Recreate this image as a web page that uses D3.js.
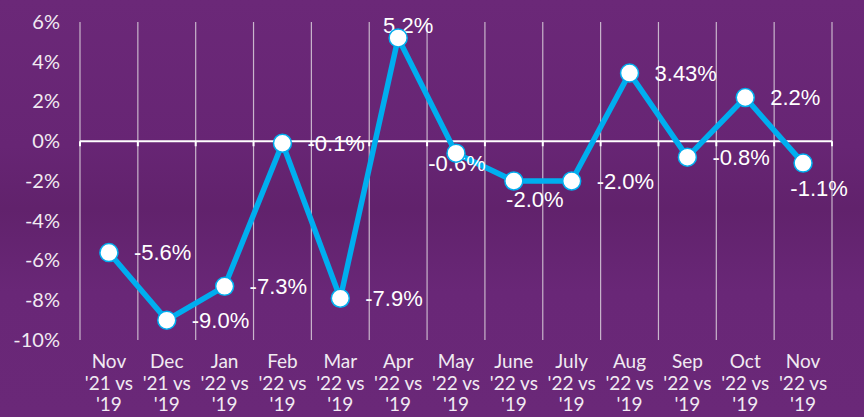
<!DOCTYPE html>
<html>
<head>
<meta charset="utf-8">
<script src="https://cdn.jsdelivr.net/npm/d3@7"></script>
<style>
  html, body { margin: 0; padding: 0; background: #6a2878; }
  svg { display: block; }
</style>
</head>
<body>
<div id="chart"></div>
<script>
// Chart data.
const months = [ 'Nov', 'Dec', 'Jan', 'Feb', 'Mar', 'Apr', 'May', 'June', 'July', 'Aug', 'Sep', 'Oct', 'Nov' ];
const years = [ "'21 vs", "'21 vs", "'22 vs", "'22 vs", "'22 vs", "'22 vs", "'22 vs", "'22 vs", "'22 vs", "'22 vs", "'22 vs", "'22 vs", "'22 vs" ];
const baseYear = "'19";
const values = [ -5.6, -9.0, -7.3, -0.1, -7.9, 5.2, -0.6, -2.0, -2.0, 3.43, -0.8, 2.2, -1.1 ];
const valueLabels = [ '-5.6%', '-9.0%', '-7.3%', '-0.1%', '-7.9%', '5.2%', '-0.6%', '-2.0%', '-2.0%', '3.43%', '-0.8%', '2.2%', '-1.1%' ];
const yTicks = [ -10, -8, -6, -4, -2, 0, 2, 4, 6 ];

// Where each data label sits relative to its point.
const labelPlacement = [ 'right', 'right', 'right', 'right', 'right', 'above', 'below', 'belowRight', 'right', 'right', 'right', 'right', 'lowRight' ];

const width = 864, height = 417;
const margin = { top: 22, right: 32, bottom: 77, left: 80 };
const plotW = width - margin.left - margin.right;
const plotH = height - margin.top - margin.bottom;

const svg = d3.select( '#chart' ).append( 'svg' )
  .attr( 'width', width )
  .attr( 'height', height );

// Background with a faint darker streak across the middle.
const defs = svg.append( 'defs' );
const grad = defs.append( 'linearGradient' )
  .attr( 'id', 'bg' )
  .attr( 'x1', 0 ).attr( 'y1', 0 ).attr( 'x2', 0 ).attr( 'y2', 1 );
grad.append( 'stop' ).attr( 'offset', '0%' ).attr( 'stop-color', '#6b2878' );
grad.append( 'stop' ).attr( 'offset', '35%' ).attr( 'stop-color', '#672574' );
grad.append( 'stop' ).attr( 'offset', '50%' ).attr( 'stop-color', '#61226c' );
grad.append( 'stop' ).attr( 'offset', '70%' ).attr( 'stop-color', '#692777' );
grad.append( 'stop' ).attr( 'offset', '100%' ).attr( 'stop-color', '#6a2878' );
svg.append( 'rect' )
  .attr( 'width', width )
  .attr( 'height', height )
  .attr( 'fill', 'url(#bg)' );

const g = svg.append( 'g' )
  .attr( 'transform', 'translate(' + margin.left + ',' + margin.top + ')' );

const x = d3.scaleBand()
  .domain( d3.range( values.length ) )
  .range( [ 0, plotW ] );

const y = d3.scaleLinear()
  .domain( [ -10, 6 ] )
  .range( [ plotH, 0 ] );

// Vertical gridlines at band edges.
const edges = d3.range( values.length + 1 ).map( i => i * x.step() );
g.selectAll( 'line.grid' )
  .data( edges )
  .enter()
  .append( 'line' )
    .attr( 'class', 'grid' )
    .attr( 'x1', d => d ).attr( 'x2', d => d )
    .attr( 'y1', 0 ).attr( 'y2', plotH )
    .attr( 'stroke', '#c9b6cc' )
    .attr( 'stroke-width', 1.2 );

// Zero line with small ticks below.
g.append( 'line' )
  .attr( 'x1', 0 ).attr( 'x2', plotW )
  .attr( 'y1', y( 0 ) ).attr( 'y2', y( 0 ) )
  .attr( 'stroke', '#ffffff' )
  .attr( 'stroke-width', 2 );
g.selectAll( 'line.tick0' )
  .data( edges )
  .enter()
  .append( 'line' )
    .attr( 'class', 'tick0' )
    .attr( 'x1', d => d ).attr( 'x2', d => d )
    .attr( 'y1', y( 0 ) ).attr( 'y2', y( 0 ) + 5 )
    .attr( 'stroke', '#ffffff' )
    .attr( 'stroke-width', 2 );

// Y axis labels.
const yAxis = g.append( 'g' )
  .call( d3.axisLeft( y ).tickValues( yTicks ).tickSize( 0 ).tickPadding( 20 ).tickFormat( d => d + '%' ) );
yAxis.select( '.domain' ).remove();
yAxis.selectAll( 'text' )
  .attr( 'fill', '#f1eaf2' )
  .style( 'font-family', 'Lato, "Open Sans", sans-serif' )
  .style( 'font-size', '20px' );

// X axis labels, three lines each.
const xLabels = g.append( 'g' )
  .attr( 'transform', 'translate(0,' + plotH + ')' )
  .selectAll( 'text' )
  .data( months )
  .enter()
  .append( 'text' )
    .attr( 'text-anchor', 'middle' )
    .attr( 'fill', '#f1eaf2' )
    .style( 'font-family', 'Lato, "Open Sans", sans-serif' )
    .style( 'font-size', '19px' );
xLabels.each( function( d, i ){
  const t = d3.select( this );
  const cx = x( i ) + x.bandwidth() / 2;
  [ d, years[i], baseYear ].forEach( ( line, k ) => {
    t.append( 'tspan' )
      .attr( 'x', cx )
      .attr( 'y', 28 + k * 21.5 )
      .text( line );
  });
});

// The line.
const cxOf = i => x( i ) + x.bandwidth() / 2;
const line = d3.line()
  .x( ( d, i ) => cxOf( i ) )
  .y( d => y( d ) );
g.append( 'path' )
  .datum( values )
  .attr( 'd', line )
  .attr( 'fill', 'none' )
  .attr( 'stroke', '#00aeef' )
  .attr( 'stroke-width', 5.5 )
  .attr( 'stroke-linejoin', 'round' );

// Data labels (drawn under the markers).
const labelOffset = {
  right:      { dx: 25, dy: 0, anchor: 'start' },
  above:      { dx: 10, dy: -13, anchor: 'middle' },
  below:      { dx: 1, dy: 10, anchor: 'middle' },
  belowRight: { dx: 21, dy: 18, anchor: 'middle' },
  lowRight:   { dx: 16, dy: 25, anchor: 'middle' }
};
g.selectAll( 'text.val' )
  .data( values )
  .enter()
  .append( 'text' )
    .attr( 'class', 'val' )
    .attr( 'x', ( d, i ) => cxOf( i ) + labelOffset[ labelPlacement[i] ].dx )
    .attr( 'y', ( d, i ) => y( d ) + labelOffset[ labelPlacement[i] ].dy )
    .attr( 'dy', '0.36em' )
    .attr( 'text-anchor', ( d, i ) => labelOffset[ labelPlacement[i] ].anchor )
    .attr( 'fill', '#ffffff' )
    .style( 'font-family', '"Liberation Sans", Arial, sans-serif' )
    .style( 'font-size', '22px' )
    .text( ( d, i ) => valueLabels[i] );

// Markers.
g.selectAll( 'circle' )
  .data( values )
  .enter()
  .append( 'circle' )
    .attr( 'cx', ( d, i ) => cxOf( i ) )
    .attr( 'cy', d => y( d ) )
    .attr( 'r', 9 )
    .attr( 'fill', '#ffffff' )
    .attr( 'stroke', '#00aeef' )
    .attr( 'stroke-width', 1.5 );
</script>
</body>
</html>
